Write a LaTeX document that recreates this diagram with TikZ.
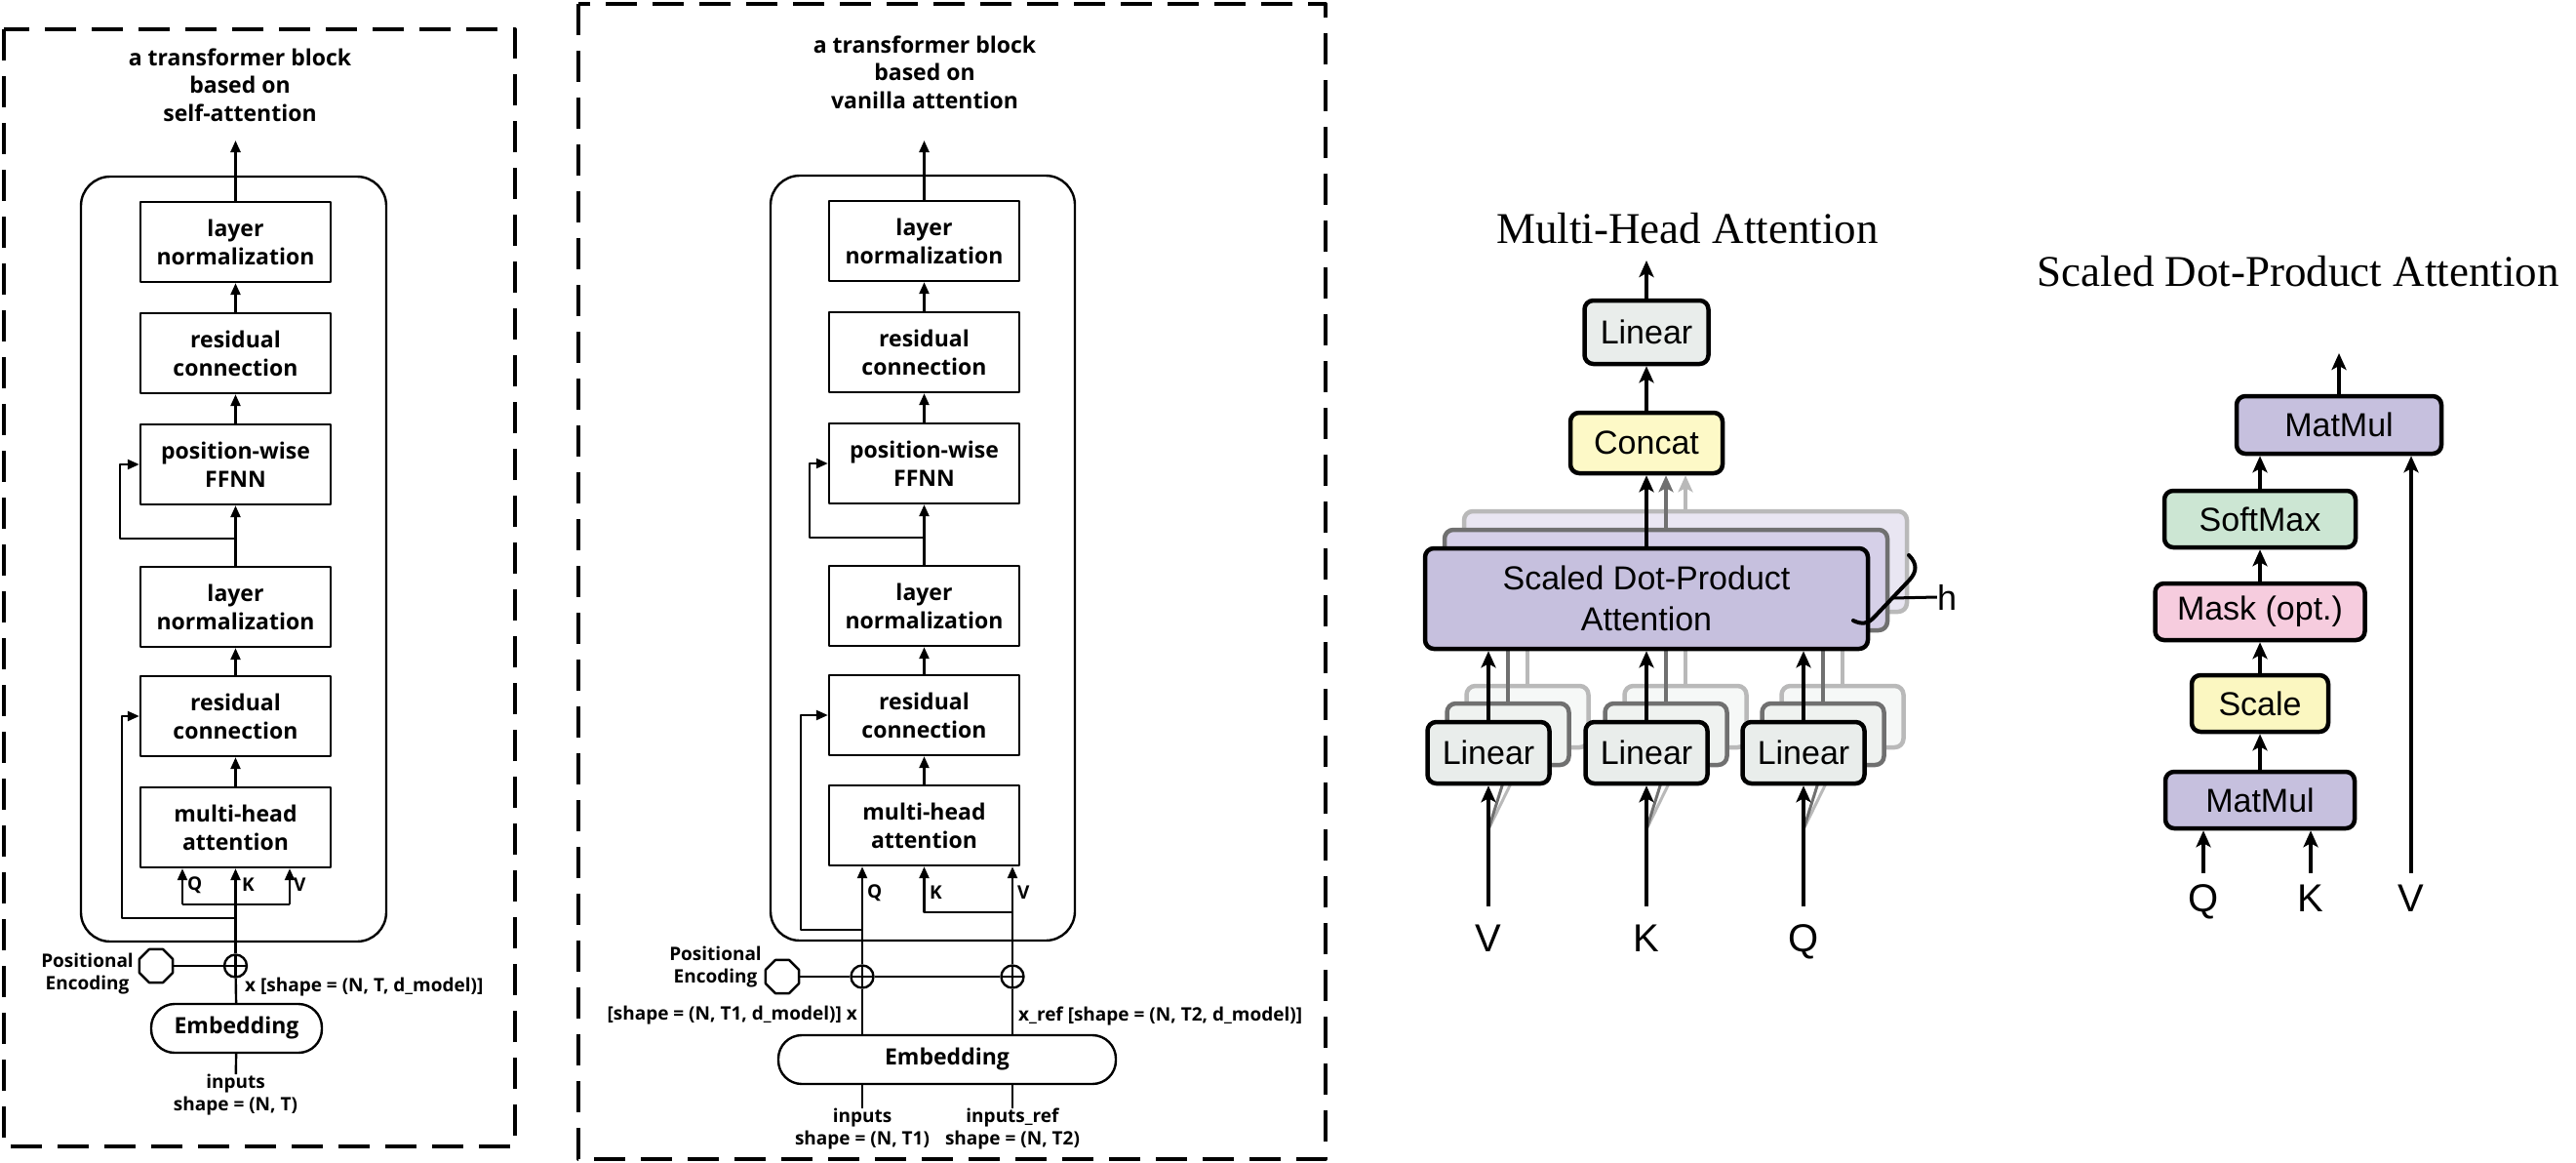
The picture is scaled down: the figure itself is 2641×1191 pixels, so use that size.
\documentclass[tikz,border=0pt]{standalone}
\usepackage{fontspec}
\setmainfont{Open Sans}
\newfontfamily\helvfont{Liberation Sans}
\newfontfamily\timesfont{Liberation Serif}
\usepackage{tikz}
\usetikzlibrary{arrows.meta}
\usetikzlibrary{shapes.geometric}
\usetikzlibrary{calc}

\definecolor{lineargray}{RGB}{233,237,235}
\definecolor{linshadeA}{RGB}{239,242,240}
\definecolor{linshadeB}{RGB}{246,248,247}
\definecolor{concatyellow}{RGB}{253,249,199}
\definecolor{sdpapurple}{RGB}{198,192,222}
\definecolor{sdpashadeA}{RGB}{214,208,232}
\definecolor{sdpashadeB}{RGB}{233,230,242}
\definecolor{softgreen}{RGB}{204,230,211}
\definecolor{maskpink}{RGB}{246,204,222}
\definecolor{scaleyellow}{RGB}{251,247,193}
\definecolor{shadowdark}{RGB}{112,112,112}
\definecolor{shadowlight}{RGB}{185,185,185}

\begin{document}
\begin{tikzpicture}[x=1pt, y=-1pt, line join=round,
        frame_style/.style={draw, line width=4pt, dash pattern=on 32pt off 16pt},
        container_style/.style={draw, line width=2.4pt, rounded corners=30pt},
        title_style/.style={align=center, inner sep=0pt, font=\bfseries\fontsize{23}{28.5}\selectfont},
        block_style/.style={draw, line width=2.4pt, minimum width=195pt, minimum height=82pt, align=center, inner sep=0pt, font=\bfseries\fontsize{23}{29}\selectfont},
        emb_style/.style={draw, line width=2.4pt, rounded corners=24pt, minimum height=50pt, inner sep=0pt, font=\bfseries\fontsize{23}{29}\selectfont},
        label_style/.style={align=center, inner sep=0pt, font=\bfseries\fontsize{19}{23}\selectfont},
        plus_style/.style={circle, draw, line width=2.4pt, minimum size=23pt, inner sep=0pt,
            path picture={\draw[line width=2.4pt] (path picture bounding box.north) -- (path picture bounding box.south) (path picture bounding box.west) -- (path picture bounding box.east);}},
        pe_style/.style={regular polygon, regular polygon sides=8, draw, line width=2.4pt, minimum size=37pt, inner sep=0pt},
        arrow_style/.style={draw, line width=2.4pt, -{Triangle[length=12pt,width=10pt]}},
        line_style/.style={draw, line width=2.4pt},
        vtitle_style/.style={inner sep=0pt, font=\timesfont\fontsize{45}{50}\selectfont},
        vblock_style/.style={draw, line width=4.5pt, rounded corners=9pt, align=center, inner sep=0pt, font=\helvfont\fontsize{34}{42}\selectfont},
        vshade_dark/.style={vblock_style, draw=shadowdark},
        vshade_light/.style={vblock_style, draw=shadowlight},
        vlabel_style/.style={anchor=base, inner sep=0pt, text height=29pt, text depth=0pt, font=\helvfont\fontsize{40}{44}\selectfont},
        varrow_style/.style={draw, line width=4pt, -{Stealth[length=17pt,width=15pt,inset=4pt]}},
        gray_line/.style={draw, line width=4pt}]

        \useasboundingbox (0,0) rectangle (2641,1191);

        \draw [frame_style] (4,30) rectangle (528,1175);

        \draw [container_style] (83,181) rectangle (396,965);

        \node [title_style] (a_title) at (246,87) {a transformer block\\based on\\self-attention};

        \node [block_style] (a_ln1) at (241.5,248) {layer\\normalization};

        \node [block_style] (a_rc1) at (241.5,362) {residual\\connection};

        \node [block_style] (a_ffnn) at (241.5,476) {position-wise\\FFNN};

        \node [block_style] (a_ln2) at (241.5,622) {layer\\normalization};

        \node [block_style] (a_rc2) at (241.5,734) {residual\\connection};

        \node [block_style] (a_mha) at (241.5,848) {multi-head\\attention};

        \node [plus_style] (a_plus) at (241.5,990) {};

        \node [pe_style] (a_pe) at (160,990) {};

        \node [label_style, anchor=east] (a_pe_text) at (137,998) {Positional\\Encoding};

        \node [emb_style, minimum width=175pt] (a_emb) at (242.5,1054) {Embedding};

        \node [label_style, anchor=west] (a_x) at (251,1012) {x [shape = (N, T, d\_model)]};

        \node [label_style, anchor=north] (a_inputs) at (241.5,1101) {inputs\\shape = (N, T)};

        \node [label_style, anchor=west] (a_q) at (192,907) {Q};

        \node [label_style, anchor=west] (a_k) at (248,907) {K};

        \node [label_style, anchor=west] (a_v) at (301,907) {V};

        \coordinate (a_out) at (241.5,144);
        \coordinate (a_fork1) at (241.5,552);
        \coordinate (a_loop1) at (123,552);
        \coordinate (a_fork2) at (241.5,941);
        \coordinate (a_loop2) at (125,941);
        \coordinate (a_qline) at (187,927);
        \coordinate (a_vline) at (297,927);

        \draw [arrow_style] (a_ln1) -- (a_out);

        \draw [arrow_style] (a_rc1) -- (a_ln1);

        \draw [arrow_style] (a_ffnn) -- (a_rc1);

        \draw [arrow_style] (a_ln2) -- (a_ffnn);

        \draw [arrow_style] (a_fork1) -- (a_loop1) |- (a_ffnn.west);

        \draw [arrow_style] (a_rc2) -- (a_ln2);

        \draw [arrow_style] (a_mha) -- (a_rc2);

        \draw [arrow_style] (a_plus) -- (a_mha);

        \draw [arrow_style] (a_fork2) -- (a_loop2) |- (a_rc2.west);

        \draw [line_style] (a_qline) -- (a_vline);

        \draw [arrow_style] (a_qline) -- (a_qline |- a_mha.south);

        \draw [arrow_style] (a_vline) -- (a_vline |- a_mha.south);

        \draw [line_style] (a_pe) -- (a_plus);

        \draw [line_style] (a_emb) -- (a_plus);

        \draw [line_style] (a_emb) -- (a_inputs);

        \draw [frame_style] (593,4) rectangle (1359,1188);

        \draw [container_style] (790,180) rectangle (1102,964);

        \node [title_style] (b_title) at (948,74) {a transformer block\\based on\\vanilla attention};

        \node [block_style] (b_ln1) at (947.5,247) {layer\\normalization};

        \node [block_style] (b_rc1) at (947.5,361) {residual\\connection};

        \node [block_style] (b_ffnn) at (947.5,475) {position-wise\\FFNN};

        \node [block_style] (b_ln2) at (947.5,621) {layer\\normalization};

        \node [block_style] (b_rc2) at (947.5,733) {residual\\connection};

        \node [block_style] (b_mha) at (947.5,846) {multi-head\\attention};

        \node [plus_style] (b_plus1) at (884,1001) {};

        \node [plus_style] (b_plus2) at (1038,1001) {};

        \node [pe_style] (b_pe) at (802,1001) {};

        \node [label_style, anchor=east] (b_pe_text) at (781,991) {Positional\\Encoding};

        \node [emb_style, minimum width=346pt] (b_emb) at (971,1086) {Embedding};

        \node [label_style, anchor=east] (b_x) at (879,1041) {[shape = (N, T1, d\_model)] x};

        \node [label_style, anchor=west] (b_xref) at (1044,1041) {x\_ref [shape = (N, T2, d\_model)]};

        \node [label_style, anchor=north] (b_inputs) at (884,1136) {inputs\\shape = (N, T1)};

        \node [label_style, anchor=north] (b_inputs_ref) at (1038,1136) {inputs\_ref\\shape = (N, T2)};

        \node [label_style, anchor=west] (b_q) at (889,915) {Q};

        \node [label_style, anchor=west] (b_k) at (953,915) {K};

        \node [label_style, anchor=west] (b_v) at (1043,915) {V};

        \coordinate (b_out) at (947.5,144);
        \coordinate (b_fork1) at (947.5,551);
        \coordinate (b_loop1) at (830,551);
        \coordinate (b_fork2) at (884,953);
        \coordinate (b_loop2) at (821,953);
        \coordinate (b_kline) at (947.5,935);
        \coordinate (b_kv) at (1038,935);

        \draw [arrow_style] (b_ln1) -- (b_out);

        \draw [arrow_style] (b_rc1) -- (b_ln1);

        \draw [arrow_style] (b_ffnn) -- (b_rc1);

        \draw [arrow_style] (b_ln2) -- (b_ffnn);

        \draw [arrow_style] (b_fork1) -- (b_loop1) |- (b_ffnn.west);

        \draw [arrow_style] (b_rc2) -- (b_ln2);

        \draw [arrow_style] (b_mha) -- (b_rc2);

        \draw [arrow_style] (b_plus1) -- (b_plus1 |- b_mha.south);

        \draw [arrow_style] (b_plus2) -- (b_plus2 |- b_mha.south);

        \draw [arrow_style] (b_kv) -- (b_kline) -- (b_mha.south);

        \draw [arrow_style] (b_fork2) -- (b_loop2) |- (b_rc2.west);

        \draw [line_style] (b_pe) -- (b_plus1);

        \draw [line_style] (b_plus1) -- (b_plus2);

        \draw [line_style] (b_plus1 |- b_emb.north) -- (b_plus1);

        \draw [line_style] (b_plus2 |- b_emb.north) -- (b_plus2);

        \draw [line_style] (b_inputs |- b_emb.south) -- (b_inputs);

        \draw [line_style] (b_inputs_ref |- b_emb.south) -- (b_inputs_ref);

        \node [vtitle_style] (c_title) at (1730,234) {Multi-Head Attention};

        \node [vshade_light, fill=sdpashadeB, minimum width=454pt, minimum height=103pt] (c_sdpa_s2) at (1728,575.5) {};

        \node [vshade_dark, fill=sdpashadeA, minimum width=454pt, minimum height=103pt] (c_sdpa_s1) at (1708,594.5) {};

        \node [vshade_light, fill=linshadeB, minimum width=125pt, minimum height=63pt] (c_lin_v_s2) at (1566,734.5) {};

        \node [vshade_dark, fill=linshadeA, minimum width=125pt, minimum height=63pt] (c_lin_v_s1) at (1546,752.5) {};

        \node [vshade_light, fill=linshadeB, minimum width=125pt, minimum height=63pt] (c_lin_k_s2) at (1728,734.5) {};

        \node [vshade_dark, fill=linshadeA, minimum width=125pt, minimum height=63pt] (c_lin_k_s1) at (1708,752.5) {};

        \node [vshade_light, fill=linshadeB, minimum width=125pt, minimum height=63pt] (c_lin_q_s2) at (1889,734.5) {};

        \node [vshade_dark, fill=linshadeA, minimum width=125pt, minimum height=63pt] (c_lin_q_s1) at (1869,752.5) {};

        \coordinate (c_v_split) at (1526,850);
        \coordinate (c_k_split) at (1688,850);
        \coordinate (c_q_split) at (1849,850);

        \draw [gray_line, draw=shadowlight] (c_lin_v_s2.north) -- (c_lin_v_s2.north |- c_sdpa_s1.south);

        \draw [gray_line, draw=shadowdark] (c_lin_v_s1.north) -- (c_lin_v_s1.north |- c_sdpa_s1.south);

        \draw [gray_line, draw=shadowlight] (c_lin_k_s2.north) -- (c_lin_k_s2.north |- c_sdpa_s1.south);

        \draw [gray_line, draw=shadowdark] (c_lin_k_s1.north) -- (c_lin_k_s1.north |- c_sdpa_s1.south);

        \draw [gray_line, draw=shadowlight] (c_lin_q_s2.north) -- (c_lin_q_s2.north |- c_sdpa_s1.south);

        \draw [gray_line, draw=shadowdark] (c_lin_q_s1.north) -- (c_lin_q_s1.north |- c_sdpa_s1.south);

        \draw [gray_line, line width=3pt, draw=shadowlight] (c_v_split) -- (c_lin_v_s2.south);

        \draw [gray_line, line width=3pt, draw=shadowdark] (c_v_split) -- (c_lin_v_s1.south);

        \draw [gray_line, line width=3pt, draw=shadowlight] (c_k_split) -- (c_lin_k_s2.south);

        \draw [gray_line, line width=3pt, draw=shadowdark] (c_k_split) -- (c_lin_k_s1.south);

        \draw [gray_line, line width=3pt, draw=shadowlight] (c_q_split) -- (c_lin_q_s2.south);

        \draw [gray_line, line width=3pt, draw=shadowdark] (c_q_split) -- (c_lin_q_s1.south);

        \node [vblock_style, fill=sdpapurple, minimum width=454pt, minimum height=103pt] (c_sdpa) at (1688,613.5) {Scaled Dot-Product\\Attention};

        \node [vblock_style, fill=lineargray, minimum width=125pt, minimum height=63pt] (c_lin_v) at (1526,771.5) {Linear};

        \node [vblock_style, fill=lineargray, minimum width=125pt, minimum height=63pt] (c_lin_k) at (1688,771.5) {Linear};

        \node [vblock_style, fill=lineargray, minimum width=125pt, minimum height=63pt] (c_lin_q) at (1849,771.5) {Linear};

        \node [vblock_style, fill=concatyellow, minimum width=156pt, minimum height=62pt] (c_concat) at (1688,454) {Concat};

        \node [vblock_style, fill=lineargray, minimum width=127pt, minimum height=65pt] (c_linear) at (1688,340.5) {Linear};

        \node [vlabel_style] (c_v) at (1526,975) {V};

        \node [vlabel_style] (c_k) at (1688,975) {K};

        \node [vlabel_style] (c_q) at (1849,975) {Q};

        \node [inner sep=0pt, font=\helvfont\fontsize{36}{40}\selectfont] (c_h) at (1996,612) {h};

        \coordinate (c_out) at (1688,267);
        \coordinate (c_brace_mid) at (1940,613);

        \draw [varrow_style, draw=shadowlight] (c_sdpa_s2.north) -- (c_sdpa_s2.north |- c_concat.south);

        \draw [varrow_style, draw=shadowdark] (c_sdpa_s1.north) -- (c_sdpa_s1.north |- c_concat.south);

        \draw [varrow_style] (c_sdpa) -- (c_concat);

        \draw [varrow_style] (c_concat) -- (c_linear);

        \draw [varrow_style] (c_linear) -- (c_out);

        \draw [varrow_style] (c_lin_v) -- (c_lin_v |- c_sdpa.south);

        \draw [varrow_style] (c_lin_k) -- (c_lin_k |- c_sdpa.south);

        \draw [varrow_style] (c_lin_q) -- (c_lin_q |- c_sdpa.south);

        \draw [varrow_style, shorten <=17pt] (c_v) -- (c_lin_v);

        \draw [varrow_style, shorten <=17pt] (c_k) -- (c_lin_k);

        \draw [varrow_style, shorten <=17pt] (c_q) -- (c_lin_q);

        \draw [line width=4pt, line cap=round] (1957,569) .. controls (1966,578) and (1965,586) .. (1958,594) -- (1922,632) .. controls (1915,640) and (1908,640) .. (1900,636);

        \draw [line width=3pt] (c_brace_mid) -- (c_h.west);

        \node [vtitle_style] (d_title) at (2356,278) {Scaled Dot-Product Attention};

        \node [vblock_style, fill=sdpapurple, minimum width=210pt, minimum height=59pt] (d_matmul2) at (2398,435.5) {MatMul};

        \node [vblock_style, fill=softgreen, minimum width=196pt, minimum height=58pt] (d_softmax) at (2317,532) {SoftMax};

        \node [vblock_style, fill=maskpink, minimum width=215pt, minimum height=58pt] (d_mask) at (2317,627) {Mask (opt.)};

        \node [vblock_style, fill=scaleyellow, minimum width=140pt, minimum height=58pt] (d_scale) at (2317,721) {Scale};

        \node [vblock_style, fill=sdpapurple, minimum width=194pt, minimum height=58pt] (d_matmul1) at (2317,820) {MatMul};

        \node [vlabel_style] (d_q) at (2259,934) {Q};

        \node [vlabel_style] (d_k) at (2369,934) {K};

        \node [vlabel_style] (d_v) at (2472,934) {V};

        \coordinate (d_out) at (2398,362);

        \draw [varrow_style] (d_matmul1) -- (d_scale);

        \draw [varrow_style] (d_scale) -- (d_mask);

        \draw [varrow_style] (d_mask) -- (d_softmax);

        \draw [varrow_style] (d_softmax.north) -- (d_softmax.north |- d_matmul2.south);

        \draw [varrow_style] (d_matmul2) -- (d_out);

        \draw [varrow_style, shorten <=10pt] (d_q) -- (d_q |- d_matmul1.south);

        \draw [varrow_style, shorten <=10pt] (d_k) -- (d_k |- d_matmul1.south);

        \draw [varrow_style, shorten <=10pt] (d_v) -- (d_v |- d_matmul2.south);

        \end{tikzpicture}
\end{document}
